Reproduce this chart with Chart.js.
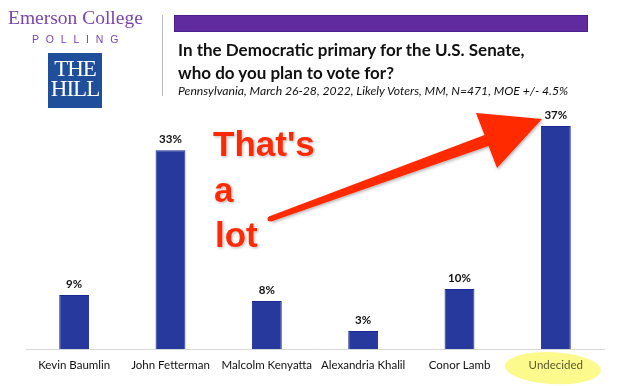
<!DOCTYPE html>
<html>
<head>
<meta charset="utf-8">
<script src="https://cdn.jsdelivr.net/npm/chart.js@4.4.1/dist/chart.umd.min.js"></script>
<style>
  html, body { margin: 0; padding: 0; background: #fff; }
  body { width: 644px; height: 386px; position: relative; overflow: hidden; }
  #c { position: absolute; left: 0; top: 0; }
  .abs { position: absolute; white-space: nowrap; }
  #emerson { left: 8px; top: 7px; font-family: "Liberation Serif", serif; font-size: 19.5px; color: #7a45ad; }
  #polling { left: 32px; top: 33px; font-family: "Liberation Sans", sans-serif; font-size: 10.5px; letter-spacing: 6.8px; color: #7a45ad; }
  #hill { left: 48px; top: 53px; width: 54px; height: 55px; background: #1f4f9b; color: #fff;
          font-family: "Liberation Serif", serif; font-size: 23px; line-height: 20px; text-align: center; letter-spacing: -1px; }
  #hill div { padding-top: 6px; }
  #divider { left: 162px; top: 15px; width: 1px; height: 81px; background: #b9b9cc; }
  #pbar { left: 174px; top: 15px; width: 412px; height: 15px; background: #5f2b9e; border: 1px solid #4a1f8e; }
  #title { left: 178px; top: 38px; font-family: Lato, sans-serif; font-weight: bold; font-size: 17px; line-height: 23px; color: #111; }
  #sub { left: 178px; top: 83px; font-family: Lato, sans-serif; font-style: italic; font-size: 12.2px; color: #111; }
  .ann { position: absolute; font-family: "Liberation Sans", Arial, sans-serif; font-weight: bold; font-size: 35px; color: #ff2a05;
         text-shadow: 0 0 2px #fff, 1px 1px 3px rgba(0,0,0,0.35); line-height: 35px; }
  svg { position: absolute; left: 0; top: 0; }
</style>
</head>
<body>
<canvas id="c" width="644" height="386"></canvas>
<div class="abs" id="emerson">Emerson College</div>
<div class="abs" id="polling">POLLING</div>
<div class="abs" id="hill"><div>THE<br>HILL</div></div>
<div class="abs" id="divider"></div>
<div class="abs" id="pbar"></div>
<div class="abs" id="title">In the Democratic primary for the U.S. Senate,<br>who do you plan to vote for?</div>
<div class="abs" id="sub">Pennsylvania, March 26-28, 2022, Likely Voters, MM, N=471, MOE +/- 4.5%</div>
<svg width="644" height="386">
  <defs>
    <filter id="sh" x="-10%" y="-10%" width="120%" height="120%">
      <feDropShadow dx="1" dy="1.5" stdDeviation="1.5" flood-color="#000" flood-opacity="0.3"/>
    </filter>
  </defs>
  <polygon filter="url(#sh)" fill="#ff2a05"
    points="268.8,216.6 484.5,134.9 476,113 542,119 497,168 488.5,146.1 271.2,221.4" />
  <circle cx="270" cy="219" r="2.5" fill="#ff2a05"/>
</svg>
<div class="ann" style="left:213px; top:126px;">That's</div>
<div class="ann" style="left:214px; top:172px;">a</div>
<div class="ann" style="left:215px; top:217px;">lot</div>
<script>
const categories = ["Kevin Baumlin", "John Fetterman", "Malcolm Kenyatta", "Alexandria Khalil", "Conor Lamb", "Undecided"];
const values = [9, 33, 8, 3, 10, 37];
const valueLabels = ["9%", "33%", "8%", "3%", "10%", "37%"];
const highlightCategory = "Undecided";

const labelPlugin = {
  id: 'valueLabels',
  afterDatasetsDraw(chart) {
    const ctx = chart.ctx;
    const meta = chart.getDatasetMeta(0);
    ctx.save();
    ctx.font = 'bold 11.5px Lato, sans-serif';
    ctx.fillStyle = '#111';
    ctx.textAlign = 'center';
    ctx.textBaseline = 'middle';
    meta.data.forEach((bar, i) => {
      ctx.fillText(valueLabels[i], bar.x, bar.y - 11);
    });
    ctx.restore();
  }
};

const highlightPlugin = {
  id: 'highlight',
  beforeDraw(chart) {
    const xs = chart.scales.x;
    const idx = categories.indexOf(highlightCategory);
    const x = xs.getPixelForTick(idx);
    const ctx = chart.ctx;
    ctx.save();
    ctx.fillStyle = 'rgba(253,250,135,0.95)';
    ctx.beginPath();
    ctx.ellipse(x - 3, xs.top + 19, 48, 16, 0.05, 0, Math.PI * 2);
    ctx.fill();
    ctx.restore();
  }
};

new Chart(document.getElementById('c'), {
  type: 'bar',
  data: {
    labels: categories,
    datasets: [{
      data: values,
      backgroundColor: '#28399d',
      borderColor: '#1a2896',
      borderWidth: 1,
      barPercentage: 0.31,
      categoryPercentage: 1
    }]
  },
  options: {
    responsive: false,
    animation: false,
    layout: { padding: { left: 26, right: 40, top: 108, bottom: 5 } },
    plugins: { legend: { display: false }, title: { display: false }, tooltip: { enabled: false } },
    scales: {
      x: {
        grid: { display: false, drawTicks: false },
        border: { display: true, color: '#d9d9d9', width: 1 },
        ticks: {
          padding: 9,
          font: { family: 'Lato, sans-serif', size: 11.5 },
          color: categories.map(c => c === highlightCategory ? '#5b5a30' : '#111'),
          maxRotation: 0, autoSkip: false
        }
      },
      y: { display: false, min: 0, max: 40 }
    }
  },
  plugins: [highlightPlugin, labelPlugin]
});
</script>
</body>
</html>
